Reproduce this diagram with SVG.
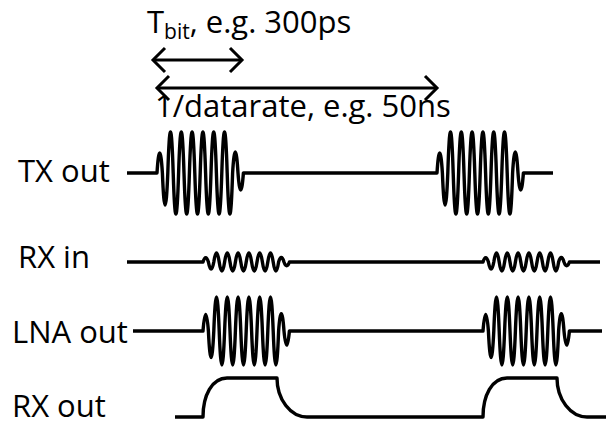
<svg xmlns="http://www.w3.org/2000/svg" width="610" height="427" viewBox="0 0 610 427">
<style>
  .lbl { font-family: "Open Sans", "Liberation Sans", sans-serif; font-size: 31px; fill: #000; }
  .wave { fill: none; stroke: #000; stroke-width: 3.4; stroke-linejoin: round; stroke-linecap: butt; }
  .dim { fill: none; stroke: #000; stroke-width: 3; }
</style>
<defs>
  <marker id="chev" viewBox="-16 -16 20 32" markerWidth="20" markerHeight="32" refX="0" refY="0" orient="auto-start-reverse" markerUnits="userSpaceOnUse" overflow="visible">
    <path d="M-12,-12 L0,0 L-12,12" fill="none" stroke="#000" stroke-width="3" stroke-linejoin="miter"/>
  </marker>
</defs>
<rect width="610" height="427" fill="#fff"/>

<g id="connectors">
  <line class="dim" x1="153" y1="60" x2="242" y2="60" marker-start="url(#chev)" marker-end="url(#chev)"/>
  <line class="dim" x1="157" y1="88" x2="437" y2="88" marker-start="url(#chev)" marker-end="url(#chev)"/>
</g>

<g id="dim-labels">
  <text class="lbl" x="147" y="33">T<tspan font-size="21" dy="6">bit</tspan><tspan dy="-6">, e.g. 300ps</tspan></text>
  <text class="lbl" x="155" y="117">1/datarate, e.g. 50ns</text>
</g>

<g id="tx-out">
  <text class="lbl" x="18" y="182">TX out</text>
  <path class="wave" d="M127,173 H157
    c1.7,-26.67 3.7,-26.67 5.4,0 c1.7,42.67 3.7,42.67 5.4,0
    c1.7,-54.67 3.7,-54.67 5.4,0 c1.7,54.67 3.7,54.67 5.4,0
    c1.7,-54.67 3.7,-54.67 5.4,0 c1.7,54.67 3.7,54.67 5.4,0
    c1.7,-54.67 3.7,-54.67 5.4,0 c1.7,54.67 3.7,54.67 5.4,0
    c1.7,-54.67 3.7,-54.67 5.4,0 c1.7,54.67 3.7,54.67 5.4,0
    c1.7,-54.67 3.7,-54.67 5.4,0 c1.7,54.67 3.7,54.67 5.4,0
    c1.7,-54.67 3.7,-54.67 5.4,0 c1.7,54.67 3.7,54.67 5.4,0
    c1.7,-28 3.7,-28 5.4,0 c1.7,22.67 3.7,22.67 5.4,0
    H437
    c1.7,-26.67 3.7,-26.67 5.4,0 c1.7,42.67 3.7,42.67 5.4,0
    c1.7,-54.67 3.7,-54.67 5.4,0 c1.7,54.67 3.7,54.67 5.4,0
    c1.7,-54.67 3.7,-54.67 5.4,0 c1.7,54.67 3.7,54.67 5.4,0
    c1.7,-54.67 3.7,-54.67 5.4,0 c1.7,54.67 3.7,54.67 5.4,0
    c1.7,-54.67 3.7,-54.67 5.4,0 c1.7,54.67 3.7,54.67 5.4,0
    c1.7,-54.67 3.7,-54.67 5.4,0 c1.7,54.67 3.7,54.67 5.4,0
    c1.7,-54.67 3.7,-54.67 5.4,0 c1.7,54.67 3.7,54.67 5.4,0
    c1.7,-28 3.7,-28 5.4,0 c1.7,22.67 3.7,22.67 5.4,0
    H553"/>
</g>

<g id="rx-in">
  <text class="lbl" x="18" y="268">RX in</text>
  <path class="wave" d="M127,262 H203
    c1.7,-5.9 3.7,-5.9 5.4,0 c1.7,9.4 3.7,9.4 5.4,0
    c1.7,-12 3.7,-12 5.4,0 c1.7,12 3.7,12 5.4,0
    c1.7,-12 3.7,-12 5.4,0 c1.7,12 3.7,12 5.4,0
    c1.7,-12 3.7,-12 5.4,0 c1.7,12 3.7,12 5.4,0
    c1.7,-12 3.7,-12 5.4,0 c1.7,12 3.7,12 5.4,0
    c1.7,-12 3.7,-12 5.4,0 c1.7,12 3.7,12 5.4,0
    c1.7,-12 3.7,-12 5.4,0 c1.7,12 3.7,12 5.4,0
    c1.7,-6.1 3.7,-6.1 5.4,0 c1.7,5 3.7,5 5.4,0
    H483
    c1.7,-5.9 3.7,-5.9 5.4,0 c1.7,9.4 3.7,9.4 5.4,0
    c1.7,-12 3.7,-12 5.4,0 c1.7,12 3.7,12 5.4,0
    c1.7,-12 3.7,-12 5.4,0 c1.7,12 3.7,12 5.4,0
    c1.7,-12 3.7,-12 5.4,0 c1.7,12 3.7,12 5.4,0
    c1.7,-12 3.7,-12 5.4,0 c1.7,12 3.7,12 5.4,0
    c1.7,-12 3.7,-12 5.4,0 c1.7,12 3.7,12 5.4,0
    c1.7,-12 3.7,-12 5.4,0 c1.7,12 3.7,12 5.4,0
    c1.7,-6.1 3.7,-6.1 5.4,0 c1.7,5 3.7,5 5.4,0
    H600"/>
</g>

<g id="lna-out">
  <text class="lbl" x="12" y="343">LNA out</text>
  <path class="wave" d="M133,331 H203
    c1.7,-22.1 3.7,-22.1 5.4,0 c1.7,35.4 3.7,35.4 5.4,0
    c1.7,-45.3 3.7,-45.3 5.4,0 c1.7,45.3 3.7,45.3 5.4,0
    c1.7,-45.3 3.7,-45.3 5.4,0 c1.7,45.3 3.7,45.3 5.4,0
    c1.7,-45.3 3.7,-45.3 5.4,0 c1.7,45.3 3.7,45.3 5.4,0
    c1.7,-45.3 3.7,-45.3 5.4,0 c1.7,45.3 3.7,45.3 5.4,0
    c1.7,-45.3 3.7,-45.3 5.4,0 c1.7,45.3 3.7,45.3 5.4,0
    c1.7,-45.3 3.7,-45.3 5.4,0 c1.7,45.3 3.7,45.3 5.4,0
    c1.7,-23.2 3.7,-23.2 5.4,0 c1.7,18.8 3.7,18.8 5.4,0
    H483
    c1.7,-22.1 3.7,-22.1 5.4,0 c1.7,35.4 3.7,35.4 5.4,0
    c1.7,-45.3 3.7,-45.3 5.4,0 c1.7,45.3 3.7,45.3 5.4,0
    c1.7,-45.3 3.7,-45.3 5.4,0 c1.7,45.3 3.7,45.3 5.4,0
    c1.7,-45.3 3.7,-45.3 5.4,0 c1.7,45.3 3.7,45.3 5.4,0
    c1.7,-45.3 3.7,-45.3 5.4,0 c1.7,45.3 3.7,45.3 5.4,0
    c1.7,-45.3 3.7,-45.3 5.4,0 c1.7,45.3 3.7,45.3 5.4,0
    c1.7,-45.3 3.7,-45.3 5.4,0 c1.7,45.3 3.7,45.3 5.4,0
    c1.7,-23.2 3.7,-23.2 5.4,0 c1.7,18.8 3.7,18.8 5.4,0
    H602"/>
</g>

<g id="rx-out">
  <text class="lbl" x="12" y="417">RX out</text>
  <path class="wave" d="M175,417 H203 C203,395.5 212,378 227,378 H277 C277,399.5 290.5,417 307,417 H483 C483,395.5 492,378 507,378 H557 C557,399.5 570.5,417 587,417 H606"/>
</g>
</svg>
